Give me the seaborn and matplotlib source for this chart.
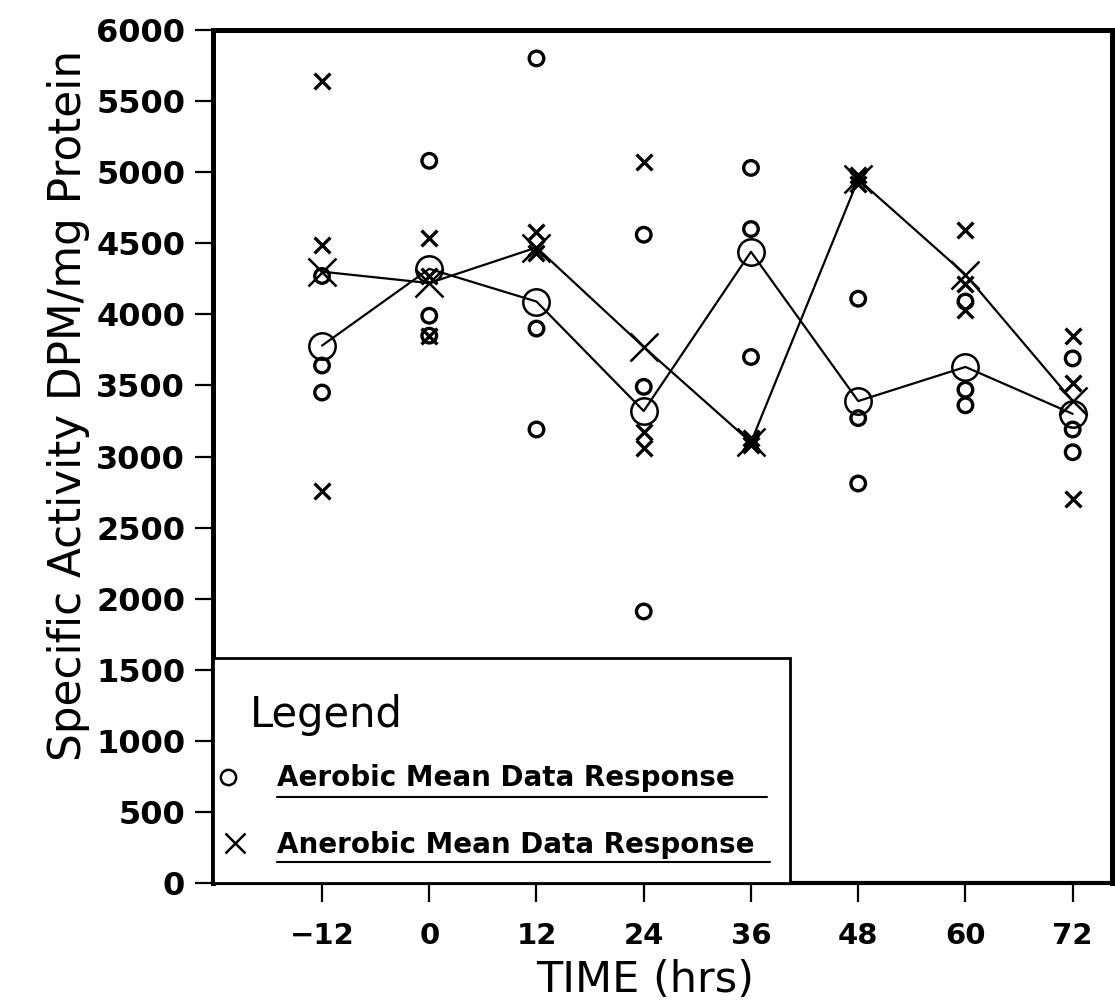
import numpy as np
import pandas as pd
import matplotlib
matplotlib.use("Agg")
import matplotlib.pyplot as plt
from matplotlib.patches import Rectangle
from matplotlib.lines import Line2D
import seaborn as sns

# Sampling times (hrs)
time_hrs = [-12, 0, 12, 24, 36, 48, 60, 72]

# Individual aerobic replicates (DPM/mg protein)
aerobic_rep1 = [4270, 5080, 5800, 4560, 5030, 4110, 4090, 3690]
aerobic_rep2 = [3640, 3990, 3900, 3490, 4600, 3270, 3470, 3190]
aerobic_rep3 = [3450, 3850, 3190, 1910, 3700, 2810, 3360, 3030]

# Individual anaerobic replicates (DPM/mg protein)
anaerobic_rep1 = [5640, 4540, 4580, 5070, 3130, 4980, 4590, 3850]
anaerobic_rep2 = [4490, 4270, 4470, 3170, 3100, 4950, 4210, 3520]
anaerobic_rep3 = [2760, 3850, 4430, 3060, 3080, 4920, 4030, 2700]

# Mean responses
aerobic_mean = [3780, 4320, 4090, 3320, 4440, 3390, 3630, 3300]
anaerobic_mean = [4300, 4220, 4470, 3770, 3100, 4950, 4280, 3390]

y_ticks = [0, 500, 1000, 1500, 2000, 2500, 3000, 3500, 4000, 4500, 5000, 5500, 6000]

aer_reps = pd.DataFrame({
    "time": time_hrs * 3,
    "activity": aerobic_rep1 + aerobic_rep2 + aerobic_rep3,
})
ana_reps = pd.DataFrame({
    "time": time_hrs * 3,
    "activity": anaerobic_rep1 + anaerobic_rep2 + anaerobic_rep3,
})
means = pd.DataFrame({
    "time": time_hrs,
    "aerobic": aerobic_mean,
    "anaerobic": anaerobic_mean,
})

sns.set_style("white")
plt.rcParams["font.family"] = ["DejaVu Sans"]
plt.rcParams["text.color"] = "black"
plt.rcParams["axes.labelcolor"] = "black"
plt.rcParams["xtick.color"] = "black"
plt.rcParams["ytick.color"] = "black"

fig = plt.figure(figsize=(11.15, 10.05), dpi=100)
ax = fig.add_axes([213 / 1115, 1 - 883 / 1005, 899 / 1115, 853 / 1005])

# replicate observations
sns.scatterplot(data=aer_reps, x="time", y="activity", ax=ax, marker="o",
                s=110, facecolors="none", edgecolor="black", linewidth=2.4,
                zorder=3, legend=False)
sns.scatterplot(data=ana_reps, x="time", y="activity", ax=ax, marker="x",
                s=130, color="black", linewidth=2.4, zorder=3, legend=False)

# mean response lines
sns.lineplot(data=means, x="time", y="aerobic", ax=ax, color="black",
             linewidth=1.6, marker="o", markersize=19, markerfacecolor="none",
             markeredgecolor="black", markeredgewidth=1.8, zorder=4)
sns.lineplot(data=means, x="time", y="anaerobic", ax=ax, color="black",
             linewidth=1.6, marker="x", markersize=20,
             markeredgecolor="black", markeredgewidth=1.8, zorder=4)

ax.set_xlim(-24.2, 76.4)
ax.set_ylim(0, 6000)
ax.set_xticks(time_hrs)
ax.set_yticks(y_ticks)
ax.set_xticklabels([f"{t}".replace("-", "\u2212") for t in time_hrs])
ax.set_yticklabels([str(v) for v in y_ticks])

for side in ["left", "top", "right"]:
    ax.spines[side].set_linewidth(3.6)
    ax.spines[side].set_color("black")
ax.spines["bottom"].set_linewidth(3.0)
ax.spines["bottom"].set_color("black")

ax.tick_params(axis="y", direction="out", length=13, width=1.6, pad=7,
               labelsize=23, left=True, colors="black")
ax.tick_params(axis="x", direction="out", length=14, width=1.6, pad=14,
               labelsize=21, bottom=True, colors="black")
for lab in ax.get_yticklabels() + ax.get_xticklabels():
    lab.set_fontweight("bold")

ax.set_ylabel("Specific Activity DPM/mg Protein", fontsize=31.5,
              va="center", color="black")
ax.yaxis.set_label_coords(-0.161, 0.56)
ax.set_xlabel("TIME (hrs)", fontsize=31, va="center", color="black")
ax.xaxis.set_label_coords(0.4805, -0.1137)

# legend panel
tr = ax.transAxes
ax.add_patch(Rectangle((0, 0), 0.642, 0.264, transform=tr, fill=True,
                       facecolor="white", edgecolor="black", linewidth=2.0,
                       zorder=5, clip_on=False))
ax.text(0.041, 0.197, "Legend", transform=tr, fontsize=30, va="center",
        ha="left", zorder=6, color="black")
ax.add_line(Line2D([0.0167], [0.124], transform=tr, marker="o", markersize=11,
                   markerfacecolor="none", markeredgecolor="black",
                   markeredgewidth=1.8, zorder=6))
ax.add_line(Line2D([0.0245], [0.047], transform=tr, marker="x", markersize=14,
                   markeredgecolor="black", markeredgewidth=1.8, zorder=6))
ax.text(0.0712, 0.123, "Aerobic Mean Data Response", transform=tr,
        fontsize=20, fontweight="bold", va="center", ha="left", zorder=6,
        color="black")
ax.text(0.0712, 0.044, "Anerobic Mean Data Response", transform=tr,
        fontsize=20, fontweight="bold", va="center", ha="left", zorder=6,
        color="black")
ax.add_line(Line2D([0.0712, 0.616], [0.1008, 0.1008], transform=tr,
                   color="black", linewidth=1.5, zorder=6))
ax.add_line(Line2D([0.0712, 0.6196], [0.0246, 0.0246], transform=tr,
                   color="black", linewidth=1.5, zorder=6))

fig.savefig("out.png", dpi=100, facecolor="white")
